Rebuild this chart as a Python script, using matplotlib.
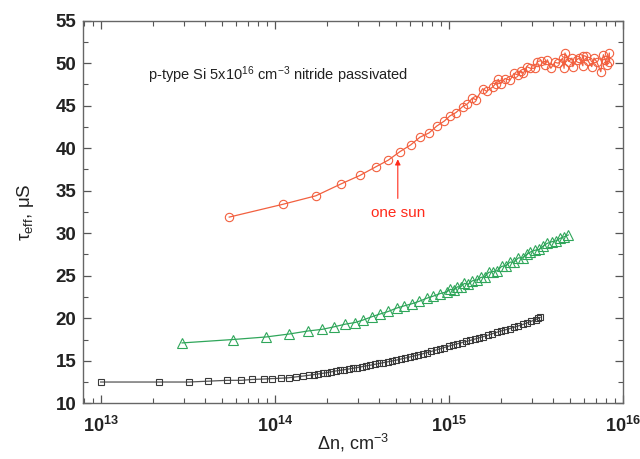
import numpy as np
import matplotlib
matplotlib.use('Agg')
import matplotlib.pyplot as plt
from matplotlib.ticker import MultipleLocator, LogLocator, FixedLocator, NullFormatter

plt.rcParams['font.family'] = ['Liberation Sans', 'DejaVu Sans']
plt.rcParams['mathtext.fontset'] = 'custom'
plt.rcParams['mathtext.rm'] = 'Liberation Sans'
plt.rcParams['mathtext.it'] = 'Liberation Sans:italic'
plt.rcParams['mathtext.bf'] = 'Liberation Sans:bold'

# excess carrier density given as log10(dn / cm^-3), lifetime in microseconds
log_dn_red = [13.739, 14.046, 14.236, 14.381, 14.49, 14.58, 14.653, 14.72, 14.782,
              14.835, 14.887, 14.931, 14.975, 15.007, 15.042, 15.08, 15.107, 15.136,
              15.157, 15.195, 15.218, 15.253, 15.27, 15.285, 15.299, 15.324, 15.352,
              15.375, 15.40, 15.415, 15.429, 15.448, 15.47, 15.496, 15.51, 15.53,
              15.554, 15.567, 15.587, 15.61, 15.63, 15.655, 15.663, 15.668, 15.69,
              15.708, 15.713, 15.735, 15.75, 15.771, 15.774, 15.79, 15.80, 15.822,
              15.835, 15.85, 15.874, 15.889, 15.90, 15.91, 15.923, 15.923]
tau_red = [31.9, 33.4, 34.4, 35.8, 36.8, 37.8, 38.6, 39.6, 40.4,
           41.3, 41.8, 42.6, 43.2, 43.8, 44.2, 44.9, 45.2, 45.9,
           45.7, 47.0, 46.7, 47.2, 47.6, 48.1, 47.6, 48.2, 48.0,
           48.8, 48.6, 49.1, 48.8, 49.6, 49.4, 49.4, 50.2, 50.3,
           49.8, 50.4, 49.4, 50.1, 50.0, 50.6, 49.4, 51.2, 50.2,
           50.6, 49.6, 50.4, 50.6, 49.7, 50.9, 50.8, 50.3, 49.6,
           50.6, 50.2, 49.0, 51.0, 50.4, 49.8, 51.2, 50.2]

log_dn_green = [13.468, 13.761, 13.95, 14.084, 14.19, 14.274, 14.343, 14.404, 14.462,
                14.509, 14.561, 14.605, 14.653, 14.701, 14.743, 14.787, 14.831, 14.873,
                14.911, 14.95, 14.988, 15.01, 15.03, 15.05, 15.069, 15.09, 15.113,
                15.135, 15.161, 15.185, 15.209, 15.23, 15.256, 15.28, 15.304, 15.33,
                15.352, 15.375, 15.40, 15.425, 15.448, 15.47, 15.496, 15.52, 15.544,
                15.565, 15.592, 15.615, 15.64, 15.665, 15.687]
tau_green = [17.1, 17.5, 17.8, 18.15, 18.5, 18.7, 19.0, 19.3, 19.5,
             19.8, 20.2, 20.5, 20.8, 21.2, 21.45, 21.7, 22.0, 22.35,
             22.6, 22.9, 23.1, 23.4, 23.3, 23.7, 23.7, 24.1, 24.0,
             24.4, 24.5, 24.8, 24.9, 25.4, 25.5, 25.6, 26.1, 26.2,
             26.6, 26.6, 27.1, 27.1, 27.5, 27.8, 28.0, 28.1, 28.5,
             28.8, 29.0, 29.1, 29.4, 29.6, 29.8]

log_dn_black = [13.0, 13.334, 13.509, 13.618, 13.726, 13.809, 13.87, 13.936, 13.983,
                14.038, 14.08, 14.12, 14.162, 14.2, 14.225, 14.25, 14.275, 14.3,
                14.325, 14.35, 14.375, 14.4, 14.425, 14.45, 14.475, 14.5, 14.525,
                14.55, 14.575, 14.6, 14.625, 14.65, 14.675, 14.7, 14.725, 14.75,
                14.775, 14.8, 14.825, 14.85, 14.875, 14.9, 14.925, 14.95, 14.975,
                15.0, 15.025, 15.05, 15.075, 15.1, 15.125, 15.15, 15.175, 15.2,
                15.225, 15.25, 15.275, 15.3, 15.325, 15.35, 15.375, 15.4, 15.425,
                15.45, 15.475, 15.5, 15.515, 15.525]
tau_black = [12.5, 12.5, 12.5, 12.6, 12.7, 12.7, 12.8, 12.85, 12.9,
             12.95, 13.0, 13.1, 13.2, 13.3, 13.37, 13.45, 13.52, 13.6,
             13.7, 13.8, 13.87, 13.95, 14.03, 14.12, 14.2, 14.3, 14.4,
             14.48, 14.58, 14.68, 14.78, 14.88, 14.98, 15.08, 15.2, 15.32,
             15.44, 15.56, 15.7, 15.82, 15.96, 16.1, 16.25, 16.4, 16.56,
             16.72, 16.86, 17.0, 17.13, 17.27, 17.4, 17.55, 17.7, 17.85,
             18.0, 18.18, 18.34, 18.5, 18.64, 18.78, 18.94, 19.1, 19.27,
             19.45, 19.65, 19.85, 19.98, 20.1]

one_sun_dn = 5.1e14
annotation = 'p-type Si 5x10$^{16}$ cm$^{-3}$ nitride passivated'

red = '#f2603f'
green = '#2fa65a'
black = '#3a3a3a'

fig = plt.figure(figsize=(6.4, 4.59), dpi=100)
ax = fig.add_axes([0.130, 0.1214, 0.843, 0.8335])

ax.plot(10 ** np.array(log_dn_black), tau_black, '-', color='#555555', lw=0.9,
        marker='s', ms=5, mfc='none', mec=black, mew=0.8)
ax.plot(10 ** np.array(log_dn_green), tau_green, '-', color=green, lw=0.9,
        marker='^', ms=6.5, mfc='none', mec=green, mew=0.8)
ax.plot(10 ** np.array(log_dn_red), tau_red, '-', color=red, lw=0.9,
        marker='o', ms=6, mfc='none', mec=red, mew=0.8)

ax.set_xscale('log')
ax.set_xlim(7.94e12, 1e16)
ax.set_ylim(10, 55)

ax.annotate('', xy=(one_sun_dn, 38.7), xytext=(one_sun_dn, 34.1),
            arrowprops=dict(arrowstyle='-|>', color='#ff2a1a', lw=0.8,
                            mutation_scale=8, shrinkA=0, shrinkB=0))
ax.text(one_sun_dn, 32.35, 'one sun', color='#ff2a1a', fontsize=11,
        ha='center', va='center')
ax.text(1.86e13, 48.6, annotation, fontsize=10.5, color='#222222',
        ha='left', va='center')

ax.xaxis.set_major_locator(FixedLocator([1e13, 1e14, 1e15, 1e16]))
ax.xaxis.set_minor_locator(LogLocator(base=10, subs=np.arange(2, 10), numticks=20))
ax.xaxis.set_minor_formatter(NullFormatter())
ax.set_xticklabels([r'$\mathbf{10^{13}}$', r'$\mathbf{10^{14}}$',
                    r'$\mathbf{10^{15}}$', r'$\mathbf{10^{16}}$'])
ax.yaxis.set_major_locator(MultipleLocator(5))
ax.yaxis.set_minor_locator(MultipleLocator(2.5))

ax.tick_params(which='both', direction='in', top=True, right=True, colors='#555555',
               labelcolor='#222222')
ax.tick_params(which='major', length=6, width=0.9, labelsize=13.5, pad=5)
ax.tick_params(which='minor', length=3.5, width=0.8)
ax.tick_params(axis='x', which='major', labelsize=13, pad=9)
for lab in ax.get_yticklabels():
    lab.set_fontweight('bold')
for sp in ax.spines.values():
    sp.set_color('#666666')
    sp.set_linewidth(1.0)

ax.set_xlabel(r'Δn, cm$^{-3}$', fontsize=13, labelpad=-3, color='#222222')
ax.set_ylabel(r'τ$_{\mathrm{eff}}$, μS', fontsize=13.5, labelpad=14, color='#222222')

fig.savefig('out.png', dpi=100)
